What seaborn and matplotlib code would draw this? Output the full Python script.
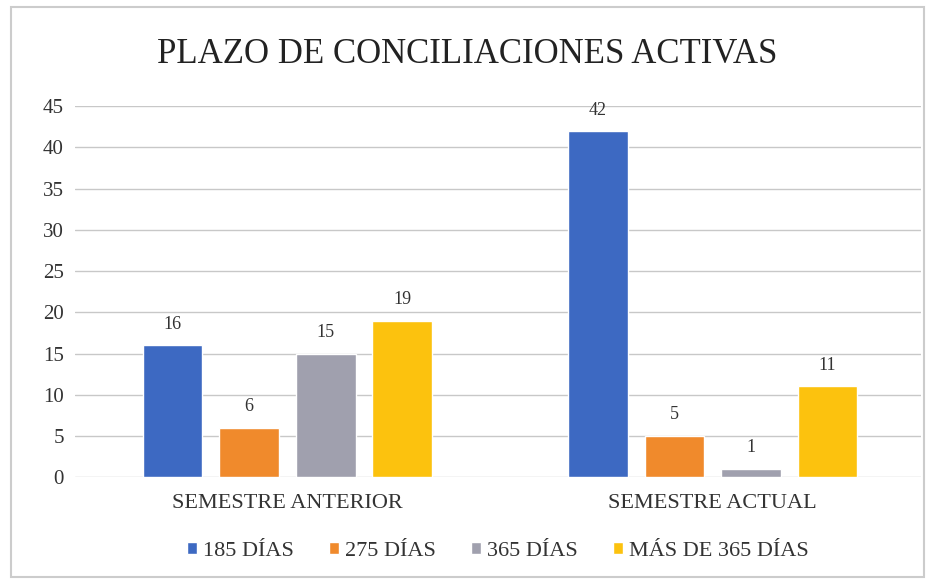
import matplotlib
matplotlib.use("Agg")
from matplotlib import pyplot as plt
import pandas as pd
import seaborn as sns

# data
semesters = ["SEMESTRE ANTERIOR", "SEMESTRE ACTUAL"]
plazos = ["185 DÍAS", "275 DÍAS", "365 DÍAS", "MÁS DE 365 DÍAS"]
anterior = [16, 6, 15, 19]
actual = [42, 5, 1, 11]
colors = ["#3d69c2", "#f08a2c", "#a0a0ae", "#fcc20e"]

rows = []
for p, a, b in zip(plazos, anterior, actual):
    rows.append({"Semestre": semesters[0], "Plazo": p, "Valor": a})
    rows.append({"Semestre": semesters[1], "Plazo": p, "Valor": b})
df = pd.DataFrame(rows)

sns.set_style("white")
plt.rcParams["font.family"] = ["Liberation Serif", "DejaVu Serif"]

fig, ax = plt.subplots(figsize=(9.35, 5.84), dpi=100)
fig.subplots_adjust(left=0.08, right=0.985, top=0.818, bottom=0.183)

ax = sns.barplot(data=df, x="Semestre", y="Valor", hue="Plazo",
                 order=semesters, hue_order=plazos, palette=colors,
                 width=0.72, gap=0.22, saturation=1, ax=ax)

for cont in ax.containers:
    ax.bar_label(cont, padding=9, fontsize=13, color="#333333")

ax.set_ylim(0, 45)
ax.set_yticks(range(0, 46, 5))
ax.set_xlim(-0.5, 1.49)
ax.yaxis.grid(True, color="#c8c8c8", linewidth=1)
ax.set_axisbelow(True)
for s in ax.spines.values():
    s.set_visible(False)
ax.tick_params(axis="y", length=0, labelsize=15, colors="#333333", pad=8)
ax.tick_params(axis="x", length=0, labelsize=16, colors="#333333", pad=12)
ax.set_xlabel("")
ax.set_ylabel("")

fig.suptitle("PLAZO DE CONCILIACIONES ACTIVAS", y=0.935, fontsize=25,
             color="#222222")

ax.legend(loc="upper center", bbox_to_anchor=(0.5, -0.12), ncol=4,
          frameon=False, fontsize=16, handlelength=0.45, handleheight=0.45,
          handletextpad=0.25, columnspacing=1.6, labelcolor="#333333")

fig.patches.append(plt.Rectangle((0.012, 0.012), 0.976, 0.976,
                                 transform=fig.transFigure, fill=False,
                                 edgecolor="#cccccc", linewidth=1.5))

fig.savefig("out.png", dpi=100)
